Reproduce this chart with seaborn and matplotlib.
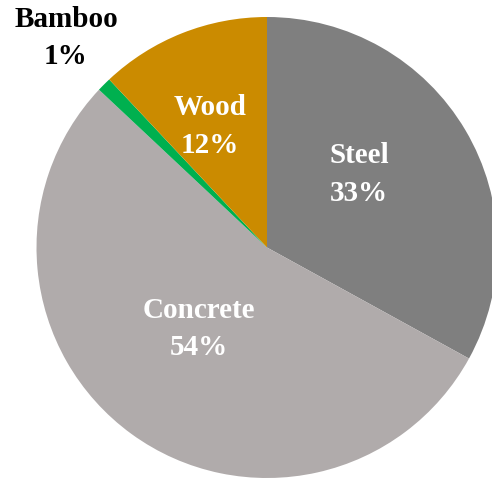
import numpy as np
import matplotlib
matplotlib.use("Agg")
import matplotlib.pyplot as plt
import seaborn as sns

# Share of structural materials
materials = ["Steel", "Concrete", "Bamboo", "Wood"]
shares = [33, 54, 1, 12]
colors = ["#7f7f7f", "#b0abab", "#00b04f", "#cb8b00"]
text_colors = ["white", "white", "black", "white"]
# label placement: fraction of radius and angular nudge (degrees) from wedge middle
label_dist = [0.51, 0.46, 1.26, 0.58]
label_turn = [7.7, -3.8, -1.2, 3.5]

sns.set_theme(style="white")
plt.rcParams["font.family"] = ["Liberation Serif", "DejaVu Serif"]

W, H = 492, 479
fig = plt.figure(figsize=(W / 100, H / 100), dpi=100)
ax = fig.add_axes([0, 0, 1, 1])

center = (267, 231.5)
radius = 230.5
wedges, _ = ax.pie(shares, colors=sns.color_palette(colors), startangle=90,
                   counterclock=False, center=center, radius=radius,
                   wedgeprops=dict(linewidth=0), frame=True)
ax.set_xlim(0, W)
ax.set_ylim(0, H)
ax.set_aspect("equal")
ax.axis("off")

for w, name, val, tc, d, t in zip(wedges, materials, shares, text_colors,
                                  label_dist, label_turn):
    mid = np.deg2rad((w.theta1 + w.theta2) / 2 + t)
    x = center[0] + d * radius * np.cos(mid)
    y = center[1] + d * radius * np.sin(mid)
    ax.text(x, y, f"{name}\n{val}%", ha="center", va="center", color=tc,
            fontsize=21, fontweight="bold", linespacing=1.5)

fig.savefig("out.png", dpi=100)
